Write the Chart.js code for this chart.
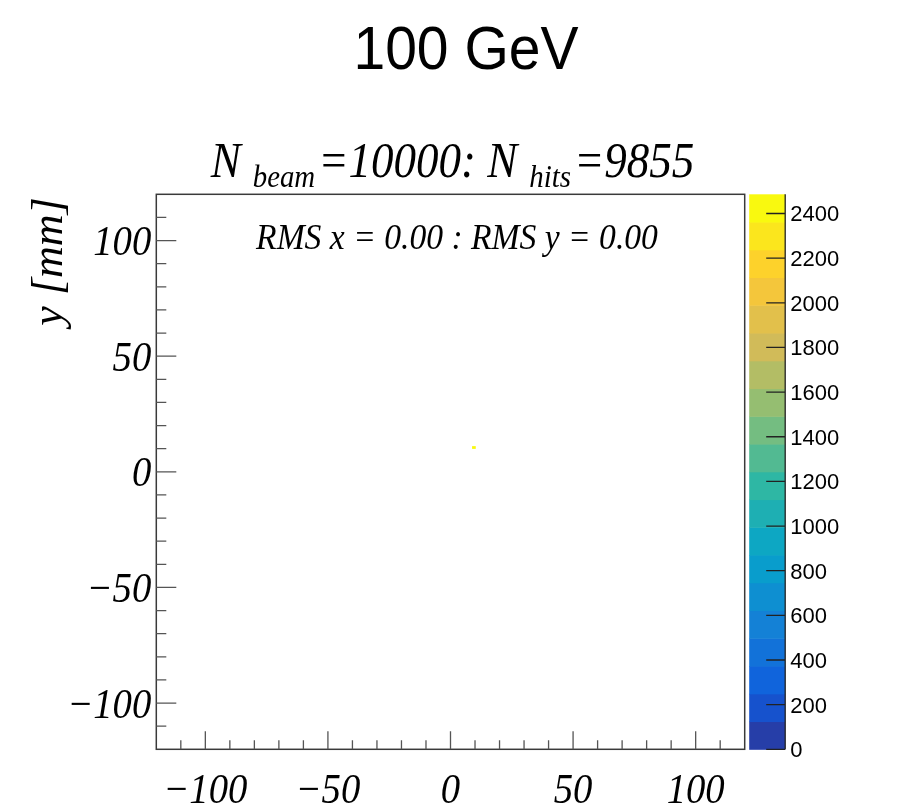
<!DOCTYPE html>
<html lang="en">
<head>
<meta charset="UTF-8">
<title>100 GeV beam spot</title>
<script src="https://cdn.jsdelivr.net/npm/chart.js"></script>
<style>
  body { margin: 0; background: #fff; }
  canvas { display: block; }
</style>
</head>
<body>
<canvas id="beamChart" width="923" height="812"></canvas>
<script>
// filled cells of the hit map: lower-left corner in mm and the count
const cellX = [8.8];
const cellY = [9.9];
const cellCounts = [2486];
const binWidth = 1.5;
const binHeight = 1.2;

const beamEnergy = '100 GeV';
const nBeam = 10000;
const nHits = 9855;
const rmsX = 0.00;
const rmsY = 0.00;

const axisMin = -120;
const axisMax = 120;
const xTickLabels = [-100, -50, 0, 50, 100];
const yTickLabels = [-100, -50, 0, 50, 100];
const zTickLabels = [0, 200, 400, 600, 800, 1000, 1200, 1400, 1600, 1800, 2000, 2200, 2400];
const zMax = 2486;
const nContours = 20;

// kBird palette stops
const stops = [0.0, 0.125, 0.25, 0.375, 0.5, 0.625, 0.75, 0.875, 1.0];
const red   = [0.2082, 0.0592, 0.0780, 0.0232, 0.1802, 0.5301, 0.8186, 0.9956, 0.9764];
const green = [0.1664, 0.3599, 0.5041, 0.6419, 0.7178, 0.7492, 0.7328, 0.7862, 0.9832];
const blue  = [0.5293, 0.8684, 0.8385, 0.7914, 0.6425, 0.4662, 0.3499, 0.1968, 0.0539];

function buildPalette(n) {
    const pal = [];
    for (let g = 1; g < stops.length; g++) {
        const steps = Math.floor(n * stops[g]) - Math.floor(n * stops[g - 1]);
        for (let c = 0; c < steps; c++) {
            const f = c / steps;
            const r = red[g - 1] + f * (red[g] - red[g - 1]);
            const gr = green[g - 1] + f * (green[g] - green[g - 1]);
            const b = blue[g - 1] + f * (blue[g] - blue[g - 1]);
            pal.push(`rgb(${Math.round(r * 255)},${Math.round(gr * 255)},${Math.round(b * 255)})`);
        }
    }
    return pal;
}
const palette = buildPalette(255);

function contourColor(level) {
    const idx = Math.floor((level + 0.99) * palette.length / nContours);
    return palette[Math.min(idx, palette.length - 1)];
}
function valueColor(v) {
    const level = Math.min(Math.floor(0.01 + v / zMax * nContours), nContours - 1);
    return contourColor(level);
}

const serif = 'italic {s}px "Liberation Serif", "Times New Roman", serif';
const sans = '{s}px "Liberation Sans", Arial, sans-serif';
const squeeze = 0.9;

function putText(ctx, str, x, y, font, size, align, sx) {
    ctx.save();
    ctx.font = font.replace('{s}', size);
    ctx.textAlign = align;
    ctx.textBaseline = 'alphabetic';
    ctx.translate(x, y);
    ctx.scale(sx, 1);
    ctx.fillText(str, 0, 0);
    ctx.restore();
}
function fmtNum(v) {
    return v < 0 ? '\u2212' + Math.abs(v) : String(v);
}

const rootStyle = {
    id: 'rootStyle',
    beforeDatasetsDraw(chart) {
        const {ctx, chartArea: a} = chart;
        const xs = chart.scales.x, ys = chart.scales.y, zs = chart.scales.z;

        // 2D histogram cells
        ctx.save();
        ctx.beginPath();
        ctx.rect(a.left, a.top, a.right - a.left, a.bottom - a.top);
        ctx.clip();
        chart.data.datasets[0].data.forEach(p => {
            const x0 = xs.getPixelForValue(p.x - binWidth / 2);
            const x1 = xs.getPixelForValue(p.x + binWidth / 2);
            const y0 = ys.getPixelForValue(p.y + binHeight / 2);
            const y1 = ys.getPixelForValue(p.y - binHeight / 2);
            ctx.fillStyle = valueColor(p.v);
            ctx.fillRect(x0, y0, x1 - x0, y1 - y0);
        });
        ctx.restore();

        // palette axis
        const barL = a.right + 4.5, barR = a.right + 40.5;
        const step = zMax / nContours;
        for (let i = 0; i < nContours; i++) {
            const yb = zs.getPixelForValue(i * step);
            const yt = zs.getPixelForValue((i + 1) * step);
            ctx.fillStyle = contourColor(i);
            ctx.fillRect(barL, yt, barR - barL, yb - yt + 0.5);
        }
        ctx.save();
        ctx.strokeStyle = '#222';
        ctx.lineWidth = 1.3;
        ctx.beginPath();
        ctx.moveTo(barR, zs.getPixelForValue(zMax));
        ctx.lineTo(barR, zs.getPixelForValue(0));
        zTickLabels.forEach(v => {
            const y = zs.getPixelForValue(v);
            ctx.moveTo(barR, y);
            ctx.lineTo(barR - 19, y);
        });
        ctx.stroke();
        ctx.restore();
        ctx.fillStyle = '#000';
        zTickLabels.forEach(v => {
            putText(ctx, String(v), barR + 5, zs.getPixelForValue(v) + 8, sans, 22, 'left', 1.0);
        });
    },
    afterDraw(chart) {
        const {ctx, chartArea: a} = chart;
        const xs = chart.scales.x, ys = chart.scales.y;

        // frame
        ctx.save();
        ctx.strokeStyle = '#3a3a3a';
        ctx.lineWidth = 1.5;
        ctx.strokeRect(a.left, a.top, a.right - a.left, a.bottom - a.top);

        // ticks drawn inside the frame
        ctx.strokeStyle = '#555';
        ctx.lineWidth = 1.3;
        ctx.beginPath();
        for (let v = -110; v <= 110; v += 10) {
            const major = v % 50 === 0;
            const px = xs.getPixelForValue(v);
            ctx.moveTo(px, a.bottom);
            ctx.lineTo(px, a.bottom - (major ? 18 : 9));
            const py = ys.getPixelForValue(v);
            ctx.moveTo(a.left, py);
            ctx.lineTo(a.left + (major ? 20 : 10), py);
        }
        ctx.stroke();
        ctx.restore();

        ctx.fillStyle = '#000';
        yTickLabels.forEach(v => {
            putText(ctx, fmtNum(v), a.left - 5, ys.getPixelForValue(v) + 14.5, serif, 43, 'right', squeeze);
        });
        xTickLabels.forEach(v => {
            putText(ctx, fmtNum(v), xs.getPixelForValue(v), a.bottom + 54, serif, 43, 'center', squeeze);
        });

        // y axis title, reads upward and ends at the frame top
        ctx.save();
        ctx.font = serif.replace('{s}', 44);
        ctx.textAlign = 'right';
        ctx.translate(62, a.top + 3);
        ctx.rotate(-Math.PI / 2);
        ctx.fillText('y [mm]', 0, 0);
        ctx.restore();

        // statistics line
        const rms = `RMS x = ${rmsX.toFixed(2)} : RMS y = ${rmsY.toFixed(2)}`;
        putText(ctx, rms, 457, 249, serif, 35, 'center', 0.96);

        // title with subscripts
        const parts = [
            {t: 'N', sub: false},
            {t: 'beam', sub: true},
            {t: `=${nBeam}: N`, sub: false},
            {t: 'hits', sub: true},
            {t: `=${nHits}`, sub: false}
        ];
        const bigSize = 50, subSize = 32, gapIn = 12, gapOut = 3;
        ctx.save();
        let total = 0;
        parts.forEach(p => {
            ctx.font = serif.replace('{s}', p.sub ? subSize : bigSize);
            p.w = ctx.measureText(p.t).width * squeeze;
            total += p.w + (p.sub ? gapIn + gapOut : 0);
        });
        let x = 452.5 - total / 2;
        parts.forEach(p => {
            if (p.sub) x += gapIn;
            putText(ctx, p.t, x, p.sub ? 187 : 177, serif, p.sub ? subSize : bigSize, 'left', squeeze);
            x += p.w + (p.sub ? gapOut : 0);
        });
        ctx.restore();

        putText(ctx, beamEnergy, 466, 69, sans, 62, 'center', 0.92);
    }
};

new Chart(document.getElementById('beamChart'), {
    type: 'scatter',
    data: {
        datasets: [{
            label: 'hits',
            data: cellX.map((x, i) => ({x: x + binWidth / 2, y: cellY[i] + binHeight / 2, v: cellCounts[i]})),
            pointRadius: 0,
            pointHoverRadius: 0
        }]
    },
    options: {
        responsive: false,
        animation: false,
        layout: {
            padding: {left: 156.3, right: 923 - 744.7, top: 194.3, bottom: 812 - 749.3}
        },
        plugins: {
            legend: {display: false},
            tooltip: {enabled: false},
            title: {display: false}
        },
        scales: {
            x: {type: 'linear', min: axisMin, max: axisMax, display: false},
            y: {type: 'linear', min: axisMin, max: axisMax, display: false},
            z: {type: 'linear', position: 'right', min: 0, max: zMax, display: false}
        }
    },
    plugins: [rootStyle]
});
</script>
</body>
</html>
